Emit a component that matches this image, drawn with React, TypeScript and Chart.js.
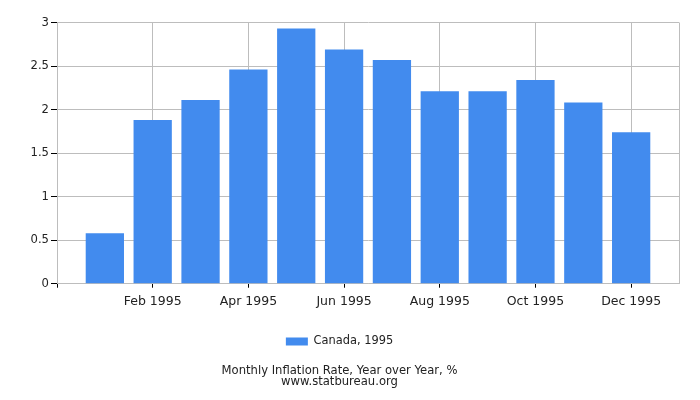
import React, { useEffect, useRef } from "react";
import { Chart, registerables } from "chart.js";

Chart.register(...registerables);

const months = [
  "Jan 1995", "Feb 1995", "Mar 1995", "Apr 1995", "May 1995", "Jun 1995",
  "Jul 1995", "Aug 1995", "Sep 1995", "Oct 1995", "Nov 1995", "Dec 1995",
];
const values = [0.58, 1.88, 2.11, 2.46, 2.93, 2.69, 2.57, 2.21, 2.21, 2.34, 2.08, 1.74];
const seriesLabel = "Canada, 1995";
const titleLines = ["Monthly Inflation Rate, Year over Year, %", "www.statbureau.org"];

const FONT = "'DejaVu Sans', Verdana, sans-serif";
const GRID = "#bdbdbd";
const TEXT = "#222";
const BAR = "rgb(66,139,238)";

export default function App() {
  const ref = useRef<HTMLCanvasElement>(null);
  useEffect(() => {
    if (!ref.current) return;
    const chart = new Chart(ref.current, {
      type: "bar",
      data: {
        datasets: [
          {
            label: seriesLabel,
            data: values.map((v, i) => ({ x: i + 1, y: v })),
            backgroundColor: BAR,
            borderWidth: 0,
            barPercentage: 1,
            categoryPercentage: 0.8,
          },
        ],
      },
      options: {
        responsive: false,
        animation: false,
        layout: { padding: { left: 0, right: 21, top: 22.5, bottom: 0 } },
        scales: {
          x: {
            type: "linear",
            min: 0,
            max: 13,
            offset: false,
            grid: {
              offset: false,
              color: GRID,
              tickColor: (ctx: any) => (ctx.tick && ctx.tick.value === 13 ? "rgba(0,0,0,0)" : "#000"),
              tickLength: 4,
            },
            border: { color: GRID },
            ticks: {
              stepSize: 1,
              autoSkip: false,
              maxRotation: 0,
              padding: 7,
              color: TEXT,
              font: { family: FONT, size: 12.5 },
              callback: (v: any) => {
                const n = Number(v);
                if (n === 0 || n === 13) return "";
                if (n % 2 === 0) return months[n - 1];
                return null;
              },
            },
            afterFit: (s: any) => {
              s.height = 42;
            },
          },
          y: {
            min: 0,
            max: 3,
            grid: { color: GRID, tickColor: "#000", tickLength: 6 },
            border: { color: GRID },
            ticks: {
              stepSize: 0.5,
              padding: 2,
              color: TEXT,
              font: { family: FONT, size: 11.6 },
              callback: (v: any) => String(Number(v)),
            },
            afterFit: (s: any) => {
              s.width = 57;
            },
          },
        },
        plugins: {
          legend: {
            position: "bottom",
            labels: {
              boxWidth: 22,
              boxHeight: 8,
              color: TEXT,
              font: { family: FONT, size: 11.4 },
              padding: 10,
            },
          },
          title: {
            display: true,
            position: "bottom",
            text: titleLines,
            color: TEXT,
            font: { family: FONT, size: 11.6, weight: "normal", lineHeight: 0.9 },
            padding: { top: 9, bottom: 13 },
          },
          tooltip: { enabled: false },
        },
      },
    });
    return () => chart.destroy();
  }, []);
  return (
    <div style={{ position: "fixed", left: 0, top: 0, width: 700, height: 400, background: "#fff" }}>
      <canvas ref={ref} width={700} height={400} />
    </div>
  );
}
